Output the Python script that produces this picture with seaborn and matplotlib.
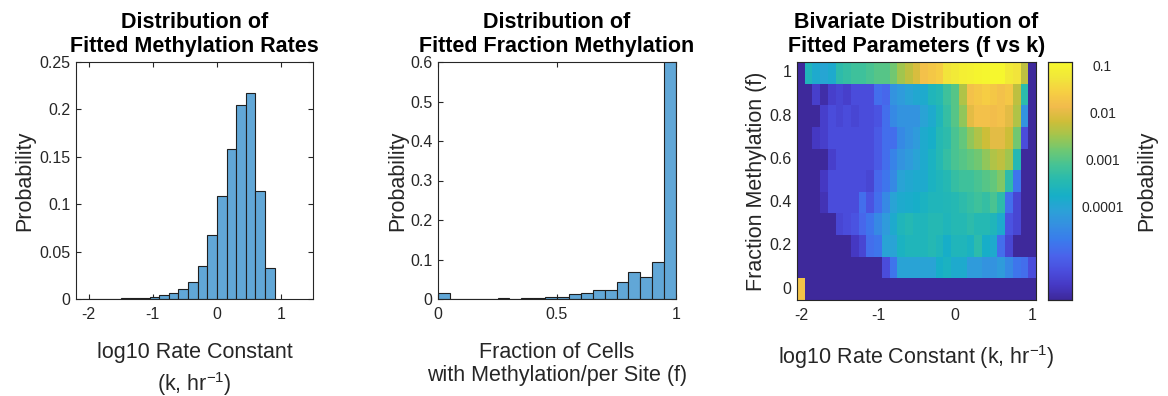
import numpy as np
import pandas as pd
import matplotlib
matplotlib.use("Agg")
import matplotlib.pyplot as plt
from matplotlib.colors import LinearSegmentedColormap
import seaborn as sns

# ---------------------------------------------------------------- data
# Histogram of fitted log10 rate constants (bin width 0.15)
rate_edges = [round(-2.1 + 0.15 * i, 2) for i in range(21)]
rate_prob = [0.0002, 0.0002, 0.0003, 0.0005, 0.0007, 0.0010, 0.0015, 0.0024,
             0.0038, 0.0060, 0.0105, 0.0180, 0.0350, 0.0674, 0.1086, 0.1580,
             0.2050, 0.2170, 0.1140, 0.0325]

# Histogram of fitted fraction methylation (bin width 0.05)
frac_edges = [round(0.05 * i, 2) for i in range(21)]
frac_prob = [0.016, 0.001, 0.001, 0.0005, 0.0008, 0.0015, 0.001, 0.0015,
             0.0025, 0.004, 0.006, 0.013, 0.016, 0.023, 0.024, 0.042,
             0.069, 0.055, 0.093, 0.629]

# Joint distribution, log10(probability); E marks empty bins
E = -6.0
k_centers = np.round(np.arange(-2.0, 1.05, 0.1), 1)   # 31 columns
f_centers = np.round(np.arange(0.0, 1.05, 0.1), 1)    # 11 rows
log10_joint = [
    # f = 0.0
    [-1.75, E, E, E, E, E, E, E, E, E, E, E, E, E, E, E,
     E, E, E, E, E, E, E, E, E, E, E, E, E, E, E],
    # f = 0.1
    [E, E, E, E, E, E, E, E, E, E, E, -5.4, -4.8, -4.05, -4.05, -4.05,
     -4.05, -4.05, -3.8, -3.7, -3.9, -3.9, -4.2, -4.2, -4.35, -4.35, -4.2, -4.5, -4.8, -4.9, -5.4],
    # f = 0.2
    [E, E, E, E, E, E, E, -5.7, -5.5, -4.9, -4.8, -4.05, -4.05, -3.7, -3.6, -3.6,
     -3.6, -3.5, -3.6, -3.8, -3.6, -3.6, -3.7, -3.4, -3.8, -3.9, -4.9, -5.5, E, E, E],
    # f = 0.3
    [E, E, E, E, E, -5.5, -5.4, -5.3, -5.0, -4.8, -4.5, -4.2, -3.9, -3.6, -3.5, -3.6,
     -3.6, -3.5, -3.5, -3.6, -3.5, -3.5, -3.4, -3.5, -3.5, -3.6, -3.9, -5.3, -5.5, E, E],
    # f = 0.4
    [E, E, E, -5.8, -5.4, -5.4, -5.4, -5.4, -4.9, -5.3, -4.9, -4.5, -4.05, -3.9, -3.85, -3.8,
     -3.7, -3.6, -3.6, -3.55, -3.5, -3.4, -3.3, -3.2, -3.3, -3.1, -3.4, -4.9, -5.5, E, E],
    # f = 0.5
    [E, E, E, -5.7, -5.4, -5.4, -5.4, -5.4, -5.4, -5.5, -5.0, -4.8, -4.5, -4.05, -3.95, -3.9,
     -3.9, -3.7, -3.6, -3.5, -3.3, -3.2, -3.2, -3.1, -3.0, -2.9, -2.7, -3.4, -4.8, E, E],
    # f = 0.6
    [E, E, E, E, -5.6, -5.4, -5.4, -5.4, -5.4, -5.4, -5.2, -4.9, -4.6, -4.35, -4.2, -4.05,
     -3.9, -3.7, -3.5, -3.3, -3.1, -3.0, -2.9, -2.8, -2.6, -2.4, -2.3, -2.5, -3.5, E, E],
    # f = 0.7
    [E, E, -5.7, -5.6, -5.4, -5.4, -5.4, -5.4, -5.4, -5.4, -5.2, -4.9, -4.9, -4.5, -4.35, -4.2,
     -3.9, -3.8, -3.5, -3.4, -3.1, -2.9, -2.6, -2.4, -2.2, -2.0, -2.0, -2.2, -2.8, -5.4, E],
    # f = 0.8
    [E, E, E, -5.6, -5.4, -5.5, -5.4, -5.5, -5.4, -5.4, -5.3, -4.9, -4.5, -4.35, -4.35, -4.35,
     -4.05, -3.9, -3.6, -3.3, -3.0, -2.6, -2.0, -1.8, -1.8, -1.85, -1.8, -2.0, -2.4, -4.35, E],
    # f = 0.9
    [E, E, -5.6, -5.9, -5.6, -5.5, -5.6, -5.4, -5.4, -5.4, -4.9, -5.0, -4.35, -4.2, -4.05, -3.95,
     -3.9, -3.6, -3.5, -3.2, -3.0, -2.4, -1.8, -1.7, -1.6, -1.7, -1.8, -1.7, -2.3, -3.4, E],
    # f = 1.0
    [E, -3.6, -3.9, -4.0, -3.9, -3.4, -3.3, -3.2, -3.2, -3.1, -3.0, -3.0, -2.8, -2.5, -2.3, -2.1,
     -1.8, -1.7, -1.6, -1.3, -1.2, -1.1, -1.05, -1.0, -0.98, -0.95, -0.95, -1.2, -1.3, -2.3, E],
]
cbar_ticks = [-4, -3, -2, -1]
cbar_labels = ["0.0001", "0.001", "0.01", "0.1"]

# ---------------------------------------------------------------- style
sns.set_theme(style="white")
plt.rcParams["font.family"] = ["Liberation Sans", "DejaVu Sans"]
plt.rcParams["mathtext.fontset"] = "custom"
plt.rcParams["mathtext.rm"] = "Liberation Sans"
plt.rcParams["mathtext.default"] = "regular"
plt.rcParams["axes.unicode_minus"] = False
plt.rcParams["axes.edgecolor"] = "0.15"
plt.rcParams["axes.linewidth"] = 0.8

TXT = "0.15"
BAR = (0.38, 0.655, 0.845)
EDGE = "0.12"

# MATLAB parula colormap (slightly muted)
parula_rgb = np.array([
    (0.2422, 0.1504, 0.6603), (0.2706, 0.2147, 0.8364), (0.2813, 0.3006, 0.9414),
    (0.2699, 0.3892, 0.9906), (0.1963, 0.4847, 0.9892), (0.1687, 0.5703, 0.9359),
    (0.1248, 0.6459, 0.8883), (0.0297, 0.7082, 0.8163), (0.0964, 0.7500, 0.7120),
    (0.2161, 0.7843, 0.5923), (0.3909, 0.8029, 0.4354), (0.6174, 0.7876, 0.2612),
    (0.8203, 0.7498, 0.1535), (0.9728, 0.7298, 0.2394), (0.9892, 0.8136, 0.1885),
    (0.9597, 0.9135, 0.1423), (0.9769, 0.9839, 0.0805)])
lum = parula_rgb @ np.array([0.299, 0.587, 0.114])
parula_rgb = 0.88 * parula_rgb + 0.12 * lum[:, None]
parula = LinearSegmentedColormap.from_list("parula", parula_rgb, N=256)

W, H = 1168, 396
fig = plt.figure(figsize=(W / 100, H / 100), dpi=100)


def rect(x0, y_top, x1, y_bot):
    return [x0 / W, 1 - y_bot / H, (x1 - x0) / W, (y_bot - y_top) / H]


ax1 = fig.add_axes(rect(76, 62, 313, 299))
ax2 = fig.add_axes(rect(438, 62, 676, 299))
ax3 = fig.add_axes(rect(797, 62, 1036, 300))
cax = fig.add_axes(rect(1048, 62, 1072, 300))


def style_axes(ax):
    for s in ax.spines.values():
        s.set_visible(True)
        s.set_color("0.15")
        s.set_linewidth(0.8)
    ax.tick_params(which="both", direction="in", length=3.5, width=0.8,
                   bottom=True, left=True, top=True, right=True,
                   labelsize=11.5, labelcolor=TXT, color="0.15")
    ax.tick_params(axis="x", pad=6)
    ax.tick_params(axis="y", pad=4)


TITLE = dict(fontsize=15.5, fontweight="bold", color="black", pad=7, linespacing=1.2)
LABEL = dict(fontsize=15.5, color=TXT)

# ---------------------------------------------------------------- panel 1
rate_df = pd.DataFrame({
    "k": [(a + b) / 2 for a, b in zip(rate_edges[:-1], rate_edges[1:])],
    "p": rate_prob,
})
sns.histplot(data=rate_df, x="k", weights="p", bins=rate_edges, ax=ax1,
             color=BAR, alpha=1, edgecolor=EDGE, linewidth=0.8)
ax1.set_xlim(-2.2, 1.5)
ax1.set_ylim(0, 0.25)
ax1.set_xticks([-2, -1, 0, 1])
ax1.set_xticklabels(["-2", "-1", "0", "1"])
ax1.set_yticks([0, 0.05, 0.1, 0.15, 0.2, 0.25])
ax1.set_yticklabels(["0", "0.05", "0.1", "0.15", "0.2", "0.25"])
ax1.set_title("Distribution of\nFitted Methylation Rates", **TITLE)
ax1.set_ylabel("Probability", labelpad=3, **LABEL)
ax1.set_xlabel("log10 Rate Constant\n(k, hr$^{-1}$)", labelpad=14, linespacing=1.35, **LABEL)
style_axes(ax1)

# ---------------------------------------------------------------- panel 2
frac_df = pd.DataFrame({
    "f": [(a + b) / 2 for a, b in zip(frac_edges[:-1], frac_edges[1:])],
    "p": frac_prob,
})
sns.histplot(data=frac_df, x="f", weights="p", bins=frac_edges, ax=ax2,
             color=BAR, alpha=1, edgecolor=EDGE, linewidth=0.8)
ax2.set_xlim(0, 1)
ax2.set_ylim(0, 0.6)
ax2.set_xticks([0, 0.5, 1])
ax2.set_xticklabels(["0", "0.5", "1"])
ax2.set_yticks([0, 0.1, 0.2, 0.3, 0.4, 0.5, 0.6])
ax2.set_yticklabels(["0", "0.1", "0.2", "0.3", "0.4", "0.5", "0.6"])
ax2.set_title("Distribution of\nFitted Fraction Methylation", **TITLE)
ax2.set_ylabel("Probability", labelpad=1, **LABEL)
ax2.set_xlabel("Fraction of Cells\nwith Methylation/per Site (f)", labelpad=14,
               linespacing=1.15, **LABEL)
style_axes(ax2)

# ---------------------------------------------------------------- panel 3
joint = pd.DataFrame(log10_joint, index=f_centers, columns=k_centers)
sns.heatmap(joint, ax=ax3, cmap=parula, vmin=-6.0, vmax=-0.93,
            cbar_ax=cax, cbar_kws={"ticks": cbar_ticks})
ax3.set_ylim(0, len(f_centers))
ax3.set_xlim(0, len(k_centers))
ax3.set_xticks([0.5, 10.5, 20.5, 30.5])
ax3.set_xticklabels(["-2", "-1", "0", "1"], rotation=0)
ax3.set_yticks([0.5, 2.5, 4.5, 6.5, 8.5, 10.5])
ax3.set_yticklabels(["0", "0.2", "0.4", "0.6", "0.8", "1"], rotation=0)
ax3.set_title("Bivariate Distribution of\nFitted Parameters (f vs k)", **TITLE)
ax3.set_ylabel("Fraction Methylation (f)", labelpad=1.5, **LABEL)
ax3.set_xlabel("log10 Rate Constant (k, hr$^{-1}$)", labelpad=14, **LABEL)
style_axes(ax3)

# colorbar
for s in cax.spines.values():
    s.set_visible(True)
    s.set_color("0.15")
    s.set_linewidth(0.8)
cbar = ax3.collections[0].colorbar
cbar.outline.set_linewidth(0.8)
cbar.outline.set_edgecolor("0.15")
cax.set_yticks(cbar_ticks)
cax.set_yticklabels(cbar_labels)
cax.tick_params(axis="y", direction="in", length=3, width=0.8, right=True, left=False,
                labelsize=10, labelcolor=TXT, color="0.15", pad=22)
for lab in cax.get_yticklabels():
    lab.set_horizontalalignment("center")
cax.set_ylabel("Probability", labelpad=9, **LABEL)

fig.savefig("out.png", dpi=100, facecolor="white")
